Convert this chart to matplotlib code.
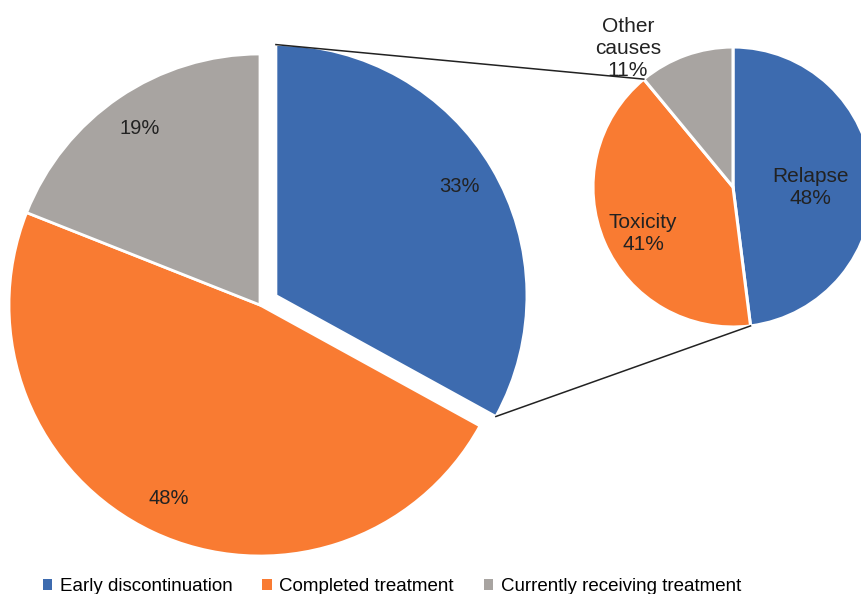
import numpy as np
import matplotlib.pyplot as plt
from matplotlib.patches import Patch

plt.rcParams['font.family'] = ['Liberation Sans', 'DejaVu Sans']

# main pie
main_labels = ['Early discontinuation', 'Completed treatment', 'Currently receiving treatment']
main_values = [33, 48, 19]
main_colors = ['#3D6BAF', '#F97B32', '#A8A4A1']

# breakdown of early discontinuation
sub_labels = ['Relapse', 'Toxicity', 'Other\ncauses']
sub_values = [48, 41, 11]
sub_colors = ['#3D6BAF', '#F97B32', '#A8A4A1']

W, H = 861, 594
fig = plt.figure(figsize=(W / 100, H / 100), dpi=100)
ax = fig.add_axes([0, 0, 1, 1])

big_c = (260, H - 305)
big_r = 251
expl = 18.5  # pie explode is in data units
wedges, _, autotexts = ax.pie(main_values, colors=main_colors, startangle=90, counterclock=False,
                              center=big_c, radius=big_r, explode=[expl, 0, 0],
                              autopct='%d%%', pctdistance=0.85,
                              wedgeprops=dict(edgecolor='white', linewidth=2),
                              textprops=dict(fontsize=14.5, color='#222222'))

small_c = (733, H - 187)
small_r = 140
sw, _ = ax.pie(sub_values, colors=sub_colors, startangle=90, counterclock=False,
               center=small_c, radius=small_r,
               wedgeprops=dict(edgecolor='white', linewidth=2.2))

# labels on small pie
offsets = [(77, 0), (-90, -46), (-105, 139)]
for lab, v, (dx, dy) in zip(sub_labels, sub_values, offsets):
    ax.text(small_c[0] + dx, small_c[1] + dy, f'{lab}\n{v}%', ha='center', va='center',
            fontsize=15, color='#222222', linespacing=1.2, zorder=5)

# connector lines from the exploded wedge to the breakdown pie
ang0 = 90.0
ang1 = 90.0 - main_values[0] / sum(main_values) * 360
mid = np.deg2rad((ang0 + ang1) / 2)
ox = big_c[0] + expl * np.cos(mid)
oy = big_c[1] + expl * np.sin(mid)
s_top = 90.0 + sub_values[2] / sum(sub_values) * 360
s_bot = 90.0 - sub_values[0] / sum(sub_values) * 360
for a_big, a_small in [(ang0, s_top), (ang1, s_bot)]:
    x0 = ox + big_r * np.cos(np.deg2rad(a_big))
    y0 = oy + big_r * np.sin(np.deg2rad(a_big))
    x1 = small_c[0] + small_r * np.cos(np.deg2rad(a_small))
    y1 = small_c[1] + small_r * np.sin(np.deg2rad(a_small))
    ax.plot([x0, x1], [y0, y1], color='#222222', lw=1.1, zorder=3)

ax.set_xlim(0, W)
ax.set_ylim(0, H)
ax.set_aspect('equal')
ax.axis('off')

handles = [Patch(facecolor=c, edgecolor='none') for c in main_colors]
fig.legend(handles, main_labels, loc='lower left', bbox_to_anchor=(0.03, -0.03), ncol=3,
           frameon=False, fontsize=13.5, handlelength=0.5, handleheight=0.5,
           handletextpad=0.4, columnspacing=1.6)

fig.savefig('out.png', dpi=100)
